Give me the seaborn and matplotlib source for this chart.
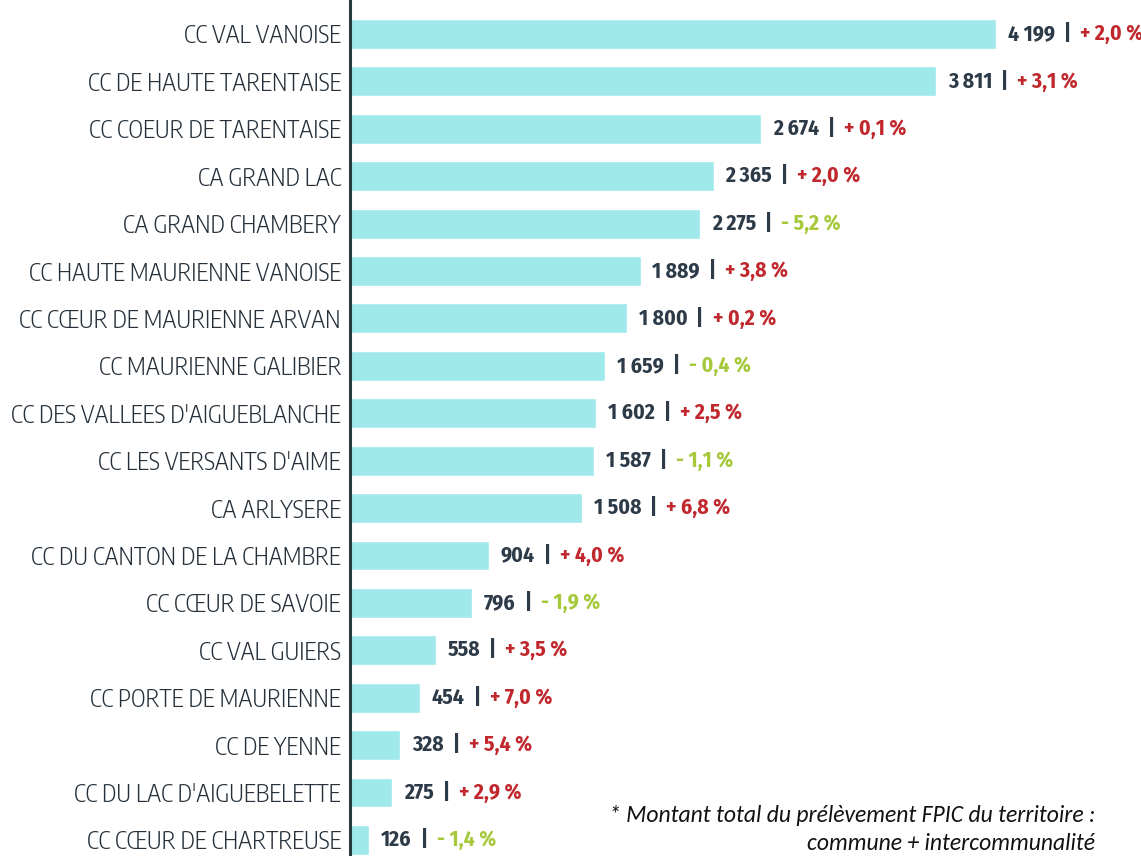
import pandas as pd
import matplotlib.pyplot as plt
import seaborn as sns
from matplotlib import font_manager

# FPIC amounts by territory (k EUR) and change vs previous year (%)
territoires = [
    "CC VAL VANOISE", "CC DE HAUTE TARENTAISE", "CC COEUR DE TARENTAISE",
    "CA GRAND LAC", "CA GRAND CHAMBERY", "CC HAUTE MAURIENNE VANOISE",
    "CC CŒUR DE MAURIENNE ARVAN", "CC MAURIENNE GALIBIER",
    "CC DES VALLEES D'AIGUEBLANCHE", "CC LES VERSANTS D'AIME", "CA ARLYSERE",
    "CC DU CANTON DE LA CHAMBRE", "CC CŒUR DE SAVOIE", "CC VAL GUIERS",
    "CC PORTE DE MAURIENNE", "CC DE YENNE", "CC DU LAC D'AIGUEBELETTE",
    "CC CŒUR DE CHARTREUSE",
]
montants = [4199, 3811, 2674, 2365, 2275, 1889, 1800, 1659, 1602, 1587, 1508,
            904, 796, 558, 454, 328, 275, 126]
evolutions = [2.0, 3.1, 0.1, 2.0, -5.2, 3.8, 0.2, -0.4, 2.5, -1.1, 6.8,
              4.0, -1.9, 3.5, 7.0, 5.4, 2.9, -1.4]

df = pd.DataFrame({"territoire": territoires, "montant": montants, "evol": evolutions})

sns.set_style("white")
installed = {f.name for f in font_manager.fontManager.ttflist}


def pick(*names):
    for n in names:
        if n in installed:
            return n
    return "DejaVu Sans"


label_font = pick("Encode Sans Condensed", "Roboto Condensed", "Liberation Sans Narrow", "DejaVu Sans")
num_font = pick("Fira Sans Condensed", "Roboto Condensed", "Carlito", "DejaVu Sans")
note_font = pick("Carlito", "Open Sans", "DejaVu Sans")
plt.rcParams["font.family"] = [label_font, "DejaVu Sans"]

fig = plt.figure(figsize=(11.41, 8.56), dpi=100)
ax = fig.add_axes([350 / 1141, 0, 1 - 350 / 1141, 1])

sns.barplot(data=df, x="montant", y="territoire", orient="h", color="#9fe8ec",
            saturation=1, width=0.63, ax=ax)

ax.set_xlim(0, 5143)
ax.set_ylim(17.34, -0.717)
ax.set_xlabel("")
ax.set_ylabel("")
ax.set_xticks([])
sns.despine(ax=ax, top=True, right=True, bottom=True)
ax.spines["left"].set_color("#2b3a42")
ax.spines["left"].set_linewidth(2.2)
ax.tick_params(axis="y", length=0, pad=6.5, labelsize=17.4, labelcolor="#25303a")
for lab in ax.get_yticklabels():
    lab.set_fontweight(300)

dark = "#2d3a48"
red = "#c0282d"
green = "#a6c93c"

for i, (m, e) in enumerate(zip(montants, evolutions)):
    num = f"{m:,}".replace(",", " ")
    sign = "+" if e >= 0 else "-"
    pct = f"{sign} {abs(e):.1f} %".replace(".", ",")
    t1 = ax.annotate(num, xy=(m, i), xytext=(8.5, 0), textcoords="offset points",
                     va="center", ha="left", fontsize=15.5, fontweight="bold",
                     color=dark, family=num_font)
    t2 = ax.annotate("  |  ", xy=(1, 0.5), xycoords=t1, va="center", ha="left",
                     fontsize=15.5, fontweight="bold", color=dark, family=num_font)
    ax.annotate(pct, xy=(1, 0.5), xycoords=t2, va="center", ha="left",
                fontsize=15.5, fontweight="bold", color=red if e >= 0 else green,
                family=num_font)

fig.text(1095 / 1141, 1 - 815 / 856, "* Montant total du prélèvement FPIC du territoire :",
         ha="right", va="center", fontsize=17, style="italic", family=note_font, color="#111111")
fig.text(1095 / 1141, 1 - 843 / 856, "commune + intercommunalité",
         ha="right", va="center", fontsize=17, style="italic", family=note_font, color="#111111")

fig.savefig("out.png", dpi=100)
